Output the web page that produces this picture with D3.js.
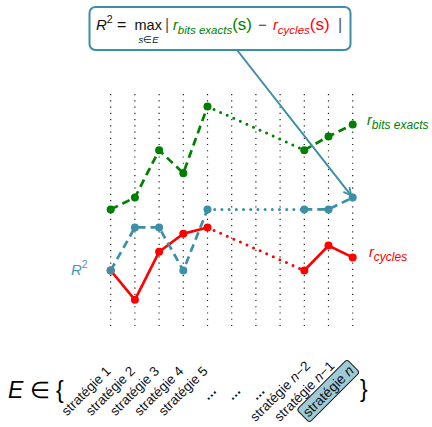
<!DOCTYPE html>
<html>
<head>
<meta charset="utf-8">
<script src="https://cdn.jsdelivr.net/npm/d3@7"></script>
<style>
  html, body { margin: 0; padding: 0; background: #fff; }
  svg { display: block; font-family: "Liberation Sans", Arial, sans-serif; }
</style>
</head>
<body>
<svg id="chart" width="432" height="427"></svg>
<script>
// Strategies on the x axis (null entries in the series are the skipped "…" ones)
const strategies = ["stratégie 1", "stratégie 2", "stratégie 3", "stratégie 4", "stratégie 5",
                    "…", "…", "…", "stratégie n−2", "stratégie n−1", "stratégie n"];
const rBitsExacts = [19.5, 21.4, 29.0, 25.3, 36.0, null, null, null, 29.0, 31.2, 33.1];
const rCycles     = [ 9.7,  5.0, 12.7, 15.6, 16.6, null, null, null,  9.7, 13.7, 11.8];
const rSquared    = [ 9.7, 16.6, 16.6,  9.7, 19.5, null, null, null, 19.5, 19.5, 21.4];
const yDomain = [0, 38];

const GREEN = "#008000", RED = "#ff0000", TEAL = "#3b8fa6";

const svg = d3.select("#chart");
const idx = d3.range(strategies.length);
const x = d3.scalePoint().domain(idx).range([110.7, 352.7]);
const y = d3.scaleLinear().domain(yDomain).range([331, 94]);

// dotted verticals, one per strategy
svg.append("g").selectAll("line").data(idx).join("line")
  .attr("x1", d => x(d)).attr("x2", d => x(d))
  .attr("y1", y(yDomain[1])).attr("y2", y(yDomain[0]))
  .attr("stroke", "#222").attr("stroke-width", 1.2)
  .attr("stroke-dasharray", "1.2 5.04");

const line = d3.line().defined(d => d.v != null).x(d => x(d.i)).y(d => y(d.v));

function drawSeries(values, color, dash, dots) {
  const pts = values.map((v, i) => ({ i, v }));
  const g = svg.append("g");
  g.append("path").datum(pts).attr("d", line)
    .attr("fill", "none").attr("stroke", color).attr("stroke-width", 2.7)
    .attr("stroke-dasharray", dash);
  // gap across the skipped strategies, drawn with round dots
  const known = pts.filter(p => p.v != null);
  const a = known.find(p => p.i === 4), b = known.find(p => p.i === 8);
  g.append("path").datum([a, b]).attr("d", line)
    .attr("fill", "none").attr("stroke", color).attr("stroke-width", 3)
    .attr("stroke-linecap", "round").attr("stroke-dasharray", dots);
  g.selectAll("circle").data(known).join("circle")
    .attr("cx", d => x(d.i)).attr("cy", d => y(d.v)).attr("r", 4)
    .attr("fill", color);
}

drawSeries(rBitsExacts, GREEN, "8 5", "0 7.2");
drawSeries(rCycles, RED, null, "0 7.2");
drawSeries(rSquared, TEAL, "8 5", "0 7.2");

// series labels
const lb = svg.append("text").attr("x", 367).attr("y", 125).attr("fill", GREEN)
  .attr("font-style", "italic");
lb.append("tspan").attr("font-size", 14.5).text("r");
lb.append("tspan").attr("font-size", 12).attr("dy", 4).text("bits exacts");

const lc = svg.append("text").attr("x", 369).attr("y", 257).attr("fill", RED)
  .attr("font-style", "italic");
lc.append("tspan").attr("font-size", 14.5).text("r");
lc.append("tspan").attr("font-size", 12).attr("dy", 4).text("cycles");

const lr = svg.append("text").attr("x", 71).attr("y", 275).attr("fill", "#4a9bb1");
lr.append("tspan").attr("font-size", 15).attr("font-style", "italic").text("R");
lr.append("tspan").attr("font-size", 10.5).attr("dy", -7).text("2");

// formula box and its arrow to the last R² point
svg.append("defs").append("marker")
  .attr("id", "head").attr("viewBox", "0 0 10 10").attr("refX", 9).attr("refY", 5)
  .attr("markerWidth", 4.5).attr("markerHeight", 4.5).attr("orient", "auto")
  .append("path").attr("d", "M1,1 L9,5 L1,9").attr("fill", "none")
  .attr("stroke", TEAL).attr("stroke-width", 2).attr("stroke-linecap", "round");

svg.append("line")
  .attr("x1", 237).attr("y1", 50)
  .attr("x2", x(10) - 1.5).attr("y2", y(rSquared[10]) - 2)
  .attr("stroke", TEAL).attr("stroke-width", 2).attr("marker-end", "url(#head)");

svg.append("rect").attr("x", 89.5).attr("y", 7).attr("width", 261).attr("height", 43)
  .attr("rx", 6).attr("fill", "#fff").attr("stroke", TEAL).attr("stroke-width", 2);

const fy = 30;
const f = svg.append("g").attr("fill", "#111");
const t1 = f.append("text").attr("x", 96).attr("y", fy);
t1.append("tspan").attr("font-size", 15).attr("font-style", "italic").text("R");
t1.append("tspan").attr("font-size", 10.5).attr("dy", -7).text("2");
f.append("text").attr("x", 117).attr("y", fy).attr("font-size", 16).text("=");
f.append("text").attr("x", 134.5).attr("y", fy).attr("font-size", 14.5).text("max");
f.append("text").attr("x", 148.5).attr("y", 43).attr("font-size", 9.5)
  .attr("text-anchor", "middle").html('<tspan font-style="italic">s</tspan>∈<tspan font-style="italic">E</tspan>');
f.append("text").attr("x", 165).attr("y", fy).attr("font-size", 16).attr("fill", "#555").text("|");
const tg = f.append("text").attr("x", 173).attr("y", fy).attr("fill", GREEN);
tg.append("tspan").attr("font-size", 14.5).attr("font-style", "italic").text("r");
tg.append("tspan").attr("font-size", 11.5).attr("font-style", "italic").attr("dy", 4).text("bits exacts");
tg.append("tspan").attr("font-size", 17).attr("dy", -4).text("(s)");
f.append("text").attr("x", 258).attr("y", fy).attr("font-size", 15).attr("fill", "#444").text("−");
const tr = f.append("text").attr("x", 273).attr("y", fy).attr("fill", RED);
tr.append("tspan").attr("font-size", 14.5).attr("font-style", "italic").text("r");
tr.append("tspan").attr("font-size", 11.5).attr("font-style", "italic").attr("dy", 4).text("cycles");
tr.append("tspan").attr("font-size", 17).attr("dy", -4).text("(s)");
f.append("text").attr("x", 338).attr("y", fy).attr("font-size", 16).attr("fill", "#555").text("|");

// set notation and rotated strategy names
svg.append("text").attr("x", 8).attr("y", 398).attr("font-size", 23)
  .html('<tspan font-style="italic">E</tspan> ∈ {');
svg.append("text").attr("x", 360).attr("y", 397).attr("font-size", 23).text("}");

const lab = svg.append("g").selectAll("g").data(idx).join("g")
  .attr("transform", i => `translate(${x(i) - 24.5},${391}) rotate(-45)`);

function fillLabel(sel, s) {
  const m = s.match(/^(stratégie )n(.*)$/);
  if (m) {
    sel.append("tspan").text(m[1]);
    sel.append("tspan").attr("font-style", "italic").text("n");
    if (m[2]) sel.append("tspan").text(m[2]);
  } else sel.text(s);
}

lab.each(function (i) {
  const g = d3.select(this);
  const s = strategies[i];
  const last = i === strategies.length - 1;
  if (last) {
    g.append("rect").attr("x", -35.5).attr("y", -9).attr("width", 71).attr("height", 18)
      .attr("rx", 3).attr("fill", "#9ecbd7").attr("stroke", "#222").attr("stroke-width", 1);
  }
  const t = g.append("text").attr("text-anchor", "middle").attr("dominant-baseline", "central")
    .attr("font-size", last ? 14 : 13.5).attr("fill", "#111");
  if (s === "…") t.attr("dy", 3).attr("font-weight", "bold");
  fillLabel(t, s);
});
</script>
</body>
</html>
